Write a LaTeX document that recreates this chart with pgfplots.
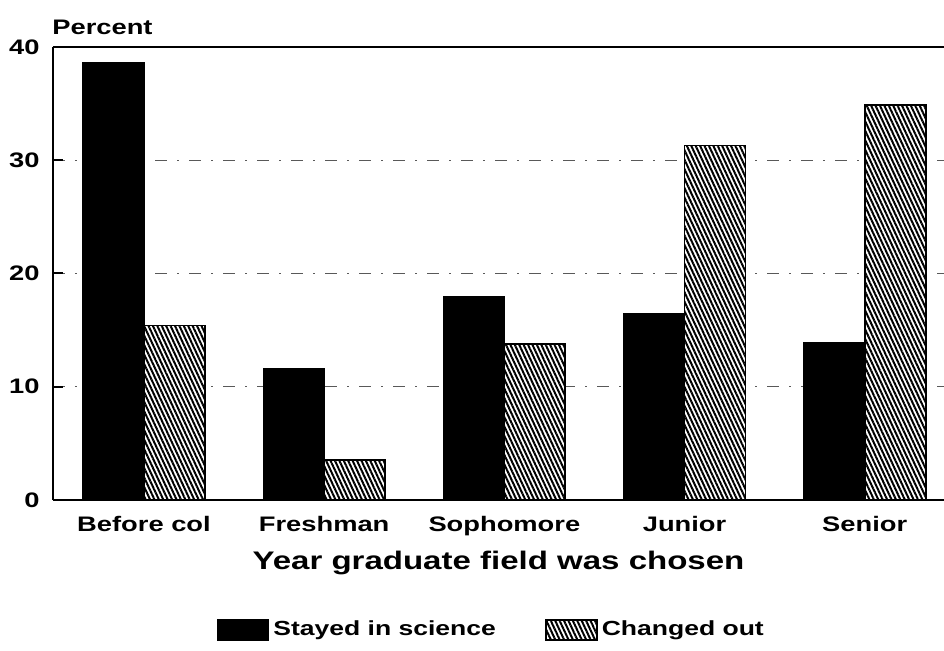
\documentclass[border=0pt]{standalone}
\usepackage{fontspec}
\setmainfont{Liberation Sans}[FakeStretch=1.3]
\usepackage{pgfplots}
\pgfplotsset{compat=1.18}
\usetikzlibrary{patterns.meta}

\begin{document}
\begin{tikzpicture}[x=1pt,y=1pt]
\path[use as bounding box] (-26.5,-75.5) rectangle (445.5,250);
\begin{axis}[
  at={(0,0)}, anchor=south west,
  width=445.5pt, height=226.5pt, scale only axis,
  xmin=-0.505, xmax=4.44, ymin=0, ymax=40,
  axis x line*=bottom, axis y line*=left,
  axis line style={line width=1.2pt, black},
  ytick={0,10,20,30,40},
  tick align=inside, major tick length=5pt,
  ytick style={line width=1pt, black},
  xtick={0,1,2,3,4},
  xticklabels={Before col, Freshman, Sophomore, Junior, Senior},
  xtick style={draw=none},
  /pgf/number format/assume math mode=true,
  xticklabel style={anchor=base, yshift=-11pt, inner sep=0pt,
    font=\fontsize{10.5}{12}\selectfont\bfseries},
  yticklabel style={anchor=east, xshift=-6.5pt, inner sep=0pt,
    font=\fontsize{10.5}{12}\selectfont\bfseries},
  ymajorgrids,
  grid style={line width=0.45pt, black!65, dash pattern=on 6pt off 5pt on 1pt off 5pt},
  ybar=0pt, bar width=30.5pt,
  xlabel={Year graduate field was chosen},
  xlabel style={at={(axis description cs:0.5,0)}, anchor=base, yshift=-35pt,
    inner sep=0pt, font=\fontsize{12.7}{15}\selectfont\bfseries},
  legend columns=2,
  legend style={at={(axis description cs:0.5,0)}, anchor=center, yshift=-65pt, xshift=-3pt,
    draw=none, fill=none, font=\fontsize{10.2}{12}\selectfont\bfseries,
    /tikz/every even column/.append style={column sep=22.5pt},
    /tikz/every odd column/.append style={column sep=0pt}},
  legend image code/.code={\draw[#1] (0pt,-5pt) rectangle (25.5pt,5pt);},
  clip=false,
]
\addplot[draw=black, line width=0.6pt, fill=black] coordinates {
  (0,38.6) (1,11.6) (2,18.0) (3,16.5) (4,13.9)};
\addplot[draw=black, line width=0.9pt, fill=white,
  postaction={pattern={Lines[angle=-65,distance=2pt,line width=1pt]}}] coordinates {
  (0,15.4) (1,3.5) (2,13.8) (3,31.3) (4,34.9)};
\legend{Stayed in science, Changed out}
\draw[line width=1.2pt, black] (axis description cs:0,1) -- (axis description cs:1,1);
\end{axis}
\node[anchor=base west, inner sep=0pt, font=\fontsize{10.5}{12}\selectfont\bfseries]
  at (-0.5,232.5) {Percent};
\end{tikzpicture}
\end{document}
